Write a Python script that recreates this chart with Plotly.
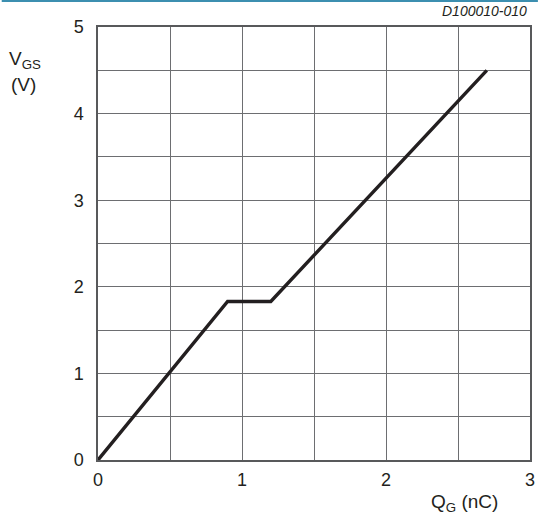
import plotly.graph_objects as go

# Gate charge curve: V_GS versus Q_G
qg_nc = [0.0, 0.9, 1.2, 2.7]
vgs_v = [0.0, 1.83, 1.83, 4.5]

x_tick_vals = [0, 0.5, 1, 1.5, 2, 2.5, 3]
x_tick_text = ["0", "", "1", "", "2", "", "3"]
y_tick_vals = [0, 0.5, 1, 1.5, 2, 2.5, 3, 3.5, 4, 4.5, 5]
y_tick_text = ["0", "", "1", "", "2", "", "3", "", "4", "", "5"]

W, H = 543, 515
L, R, T, B = 97.5, 8, 27, 55
pw, ph = W - L - R, H - T - B

font_family = "Liberation Sans, Arial, sans-serif"
ink = "#231f20"

fig = go.Figure()
fig.add_trace(go.Scatter(
    x=qg_nc, y=vgs_v, mode="lines",
    line=dict(color=ink, width=3.4),
    hoverinfo="skip", showlegend=False,
))

axis_common = dict(
    showgrid=True, gridcolor="#6d6e71", gridwidth=1.2,
    showline=True, linecolor="#58595b", linewidth=1.5, mirror=True,
    zeroline=False, ticks="", tickfont=dict(family=font_family, size=18, color=ink),
    fixedrange=True,
)

fig.update_xaxes(range=[0, 3], tickmode="array", tickvals=x_tick_vals,
                 ticktext=x_tick_text, ticklabelstandoff=3, **axis_common)
fig.update_yaxes(range=[0, 5], tickmode="array", tickvals=y_tick_vals,
                 ticktext=y_tick_text, ticklabelstandoff=9, **axis_common)


def px_note(text, cx, cy, size, xanchor="center"):
    return dict(text=text, x=(cx - L) / pw, y=1 - (cy - T) / ph,
                xref="paper", yref="paper", showarrow=False,
                xanchor=xanchor, yanchor="middle",
                font=dict(family=font_family, size=size, color=ink))


annotations = [
    px_note("V<sub>GS</sub>", 24, 60, 19),
    px_note("(V)", 22, 84, 19),
    px_note("Q<sub>G</sub> (nC)", 469, 503, 19),
    px_note("<i>D100010-010</i>", 534, 11, 14, xanchor="right"),
]

# thin accent rule across the top edge of the page
shapes = [dict(type="line", xref="paper", yref="paper",
               x0=-L / pw, x1=1 + R / pw, y0=1 + (T - 1) / ph, y1=1 + (T - 1) / ph,
               line=dict(color="#3c8fb0", width=2))]

fig.update_layout(
    width=W, height=H,
    margin=dict(l=L, r=R, t=T, b=B),
    paper_bgcolor="white", plot_bgcolor="white",
    annotations=annotations, shapes=shapes,
    showlegend=False,
)

fig.write_html("out.html", config={"displayModeBar": False})
